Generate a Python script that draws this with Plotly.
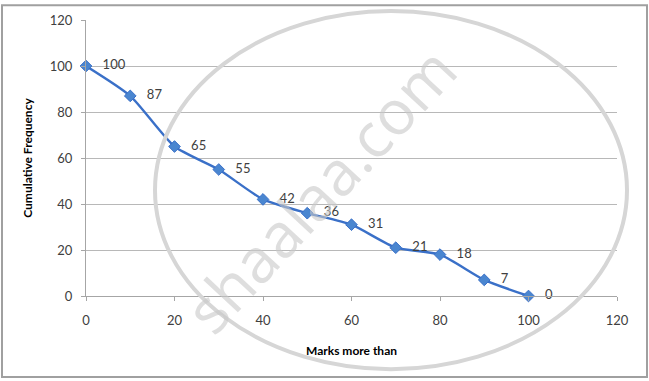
import plotly.graph_objects as go

marks = [0, 10, 20, 30, 40, 50, 60, 70, 80, 90, 100]
cum_freq = [100, 87, 65, 55, 42, 36, 31, 21, 18, 7, 0]
x_ticks = [0, 20, 40, 60, 80, 100, 120]
y_ticks = [0, 20, 40, 60, 80, 100, 120]

W, H = 649, 381
L, R, T, B = 86, 32, 17, 85
pw, ph = W - L - R, H - T - B

def px(xp):
    return (xp - L) / pw

def py(yp):
    return (H - B - yp) / ph

fig = go.Figure()
fig.add_trace(go.Scatter(
    x=marks, y=cum_freq, mode="lines+markers+text",
    line=dict(color="#3a70c8", width=2.4, shape="spline", smoothing=0.6),
    marker=dict(symbol="diamond", size=9, color="#4a86d0", line=dict(color="#3a70c8", width=1)),
    text=["   " + str(v) for v in cum_freq], textposition="middle right",
    textfont=dict(family="Lato, Open Sans, sans-serif", size=13, color="#404040"),
    cliponaxis=False, showlegend=False,
))

fig.update_layout(
    width=W, height=H, margin=dict(l=L, r=R, t=T, b=B),
    paper_bgcolor="white", plot_bgcolor="white",
    font=dict(family="Lato, Open Sans, sans-serif", size=13, color="#404040"),
    xaxis=dict(range=[0, 120], tickvals=x_ticks, showgrid=False, zeroline=False,
               showline=True, linecolor="#a6a6a6", linewidth=1,
               ticks="outside", ticklen=4, tickcolor="#a6a6a6", ticklabelstandoff=8,
               title=dict(text="<b>Marks more than</b>", standoff=20,
                          font=dict(size=12, color="#000000"))),
    yaxis=dict(range=[0, 120], tickvals=y_ticks, showgrid=True, gridcolor="#b8b8b8",
               gridwidth=1, zeroline=False, showline=True, linecolor="#a6a6a6", linewidth=1,
               ticks="outside", ticklen=4, tickcolor="#a6a6a6", ticklabelstandoff=6,
               title=dict(text="<b>Cumulative Frequency</b>", standoff=14,
                          font=dict(size=12, color="#000000"))),
)

# outer border
fig.add_shape(type="rect", xref="paper", yref="paper",
              x0=px(2), x1=px(647), y0=py(378), y1=py(2),
              line=dict(color="#a0a0a0", width=2), layer="below")
# watermark circle
fig.add_shape(type="circle", xref="paper", yref="paper",
              x0=px(155), x1=px(627), y0=py(370), y1=py(8),
              line=dict(color="#d6d6d6", width=4), layer="above")
fig.add_annotation(xref="paper", yref="paper", x=px(320), y=py(188),
                   text="shaalaa.com", showarrow=False, textangle=-47,
                   font=dict(family="Open Sans, sans-serif", size=62, color="rgba(200,200,200,0.6)"))

fig.write_html("out.html")
